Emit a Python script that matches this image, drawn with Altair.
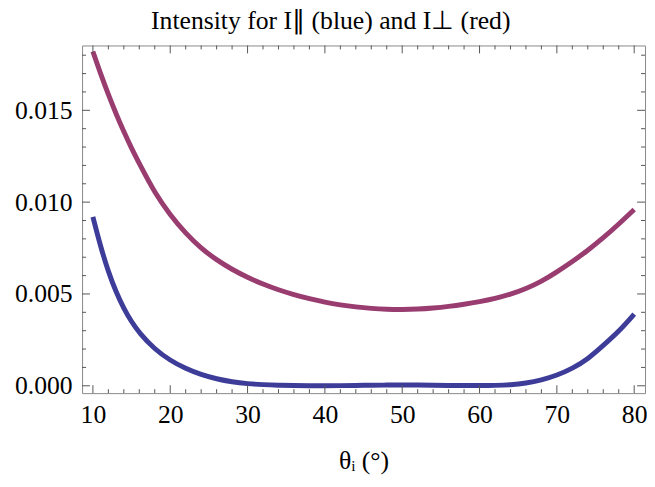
import altair as alt
import pandas as pd

# angles (degrees)
theta = [10, 11, 12, 13, 14, 15, 16, 18, 20, 22, 24, 26, 28, 30, 32, 34, 36, 38, 40,
         42, 44, 46, 48, 50, 52, 54, 56, 58, 60, 62, 64, 66, 68, 70, 72, 74, 76, 78, 80]
# I parallel (blue)
i_par = [0.0092, 0.00757, 0.0062, 0.0051, 0.0042, 0.00348, 0.00288, 0.00198, 0.00138, 0.00093,
         0.0006, 0.00037, 0.00021, 0.00011, 0.00006, 0.00003, 0.00001, 0.0, 0.0,
         0.00001, 0.00002, 0.00003, 0.00004, 0.00004, 0.00004, 0.00003, 0.00002, 0.00001, 0.00001,
         0.00002, 0.00005, 0.00014, 0.00031, 0.00057, 0.00094, 0.00145, 0.0022, 0.00295, 0.0039]
# I perpendicular (red)
i_perp = [0.0182, 0.01698, 0.01585, 0.0148, 0.01383, 0.01293, 0.0121, 0.0105, 0.0093, 0.0083,
          0.00748, 0.00685, 0.00633, 0.0059, 0.00553, 0.00522, 0.00496, 0.00474, 0.00455,
          0.0044, 0.00429, 0.00421, 0.00416, 0.00415, 0.00417, 0.00423, 0.00432, 0.00444, 0.00458,
          0.00475, 0.00498, 0.00528, 0.00568, 0.0062, 0.00676, 0.00737, 0.00805, 0.0088, 0.0096]

x_major = [10, 20, 30, 40, 50, 60, 70, 80]
x_minor = [v for v in range(12, 80, 2) if v % 10 != 0]
y_major = [0.0, 0.005, 0.010, 0.015]
y_minor = [0.001, 0.002, 0.003, 0.004, 0.006, 0.007, 0.008, 0.009,
           0.011, 0.012, 0.013, 0.014, 0.016, 0.017, 0.018]

W, H = 570, 352
FONT = "Liberation Serif"
BLUE = "#3d3d99"
RED = "#993d71"
TICK = "#555555"

df = pd.DataFrame({
    "theta": theta * 2,
    "I": i_par + i_perp,
    "series": ["par"] * len(theta) + ["perp"] * len(theta),
})

xs = alt.Scale(domain=[8.6, 81.4], nice=False, zero=False)
ys = alt.Scale(domain=[-0.0004, 0.01853], nice=False, zero=False)

lines = alt.Chart(df).mark_line(strokeWidth=5, interpolate="basis").encode(
    x=alt.X("theta:Q", scale=xs,
            axis=alt.Axis(values=x_major, ticks=False, domain=False, grid=False,
                          labelFont=FONT, labelFontSize=26, labelColor="black",
                          labelPadding=9, labelFlush=True, labelFlushOffset=11,
                          title="θᵢ (°)", titleFont=FONT,
                          titleFontSize=26, titleFontWeight="normal",
                          titleColor="black", titlePadding=20)),
    y=alt.Y("I:Q", scale=ys,
            axis=alt.Axis(values=y_major, format=".3f", ticks=False, domain=False,
                          grid=False, labelFont=FONT, labelFontSize=26,
                          labelColor="black", labelPadding=10, title=None)),
    color=alt.Color("series:N", scale=alt.Scale(domain=["par", "perp"], range=[BLUE, RED]),
                    legend=None),
)

xmaj = pd.DataFrame({"v": x_major})
xmin = pd.DataFrame({"v": x_minor})
ymaj = pd.DataFrame({"v": y_major})
ymin = pd.DataFrame({"v": y_minor})


def xticks(d, length):
    bottom = alt.Chart(d).mark_rule(color=TICK, strokeWidth=1).encode(
        x=alt.X("v:Q", scale=xs), y=alt.value(H), y2=alt.value(H - length))
    top = alt.Chart(d).mark_rule(color=TICK, strokeWidth=1).encode(
        x=alt.X("v:Q", scale=xs), y=alt.value(0), y2=alt.value(length))
    return bottom + top


def yticks(d, length):
    left = alt.Chart(d).mark_rule(color=TICK, strokeWidth=1).encode(
        y=alt.Y("v:Q", scale=ys), x=alt.value(0), x2=alt.value(length))
    right = alt.Chart(d).mark_rule(color=TICK, strokeWidth=1).encode(
        y=alt.Y("v:Q", scale=ys), x=alt.value(W), x2=alt.value(W - length))
    return left + right


chart = alt.layer(
    lines,
    xticks(xmaj, 8), xticks(xmin, 4),
    yticks(ymaj, 8), yticks(ymin, 4),
).properties(
    width=W, height=H,
    title=alt.TitleParams("Intensity for I∥ (blue) and I⊥ (red)", font=FONT,
                          fontSize=26, fontWeight="normal", color="black",
                          anchor="middle", frame="bounds", offset=8),
    autosize=alt.AutoSizeParams(type="none"),
    padding={"left": 75, "top": 35, "right": 2, "bottom": 85},
).configure_view(stroke="#888888", strokeWidth=1)

chart.save("out.html", embed_options={"renderer": "svg", "actions": False})
